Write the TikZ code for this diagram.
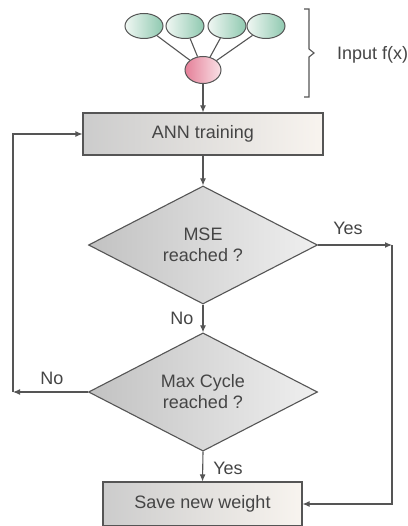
\documentclass[tikz,border=0pt]{standalone}
\usepackage{fontspec}
\setmainfont{Liberation Sans}
\usetikzlibrary{shapes.geometric,arrows.meta}
\definecolor{edge}{HTML}{555555}
\definecolor{txt}{HTML}{454545}
\definecolor{greenR}{HTML}{8FC9B0}
\definecolor{greenL}{HTML}{F0F7F3}
\definecolor{pinkL}{HTML}{E57F98}
\definecolor{pinkR}{HTML}{F9E1E6}
\definecolor{boxL}{HTML}{CCCCCC}
\definecolor{boxR}{HTML}{F8F4EF}
\definecolor{diaL}{HTML}{C2C2C2}
\definecolor{diaR}{HTML}{EFEFEF}
\begin{document}
\begin{tikzpicture}[x=1pt,y=-1pt,
  font=\fontsize{18}{21}\selectfont, text=txt,
  conn/.style={draw=edge, line width=1.1pt},
  arr/.style={conn, -{Latex[length=7pt,width=6pt]}},
  inode/.style={ellipse, draw=edge, line width=1pt, minimum width=38pt, minimum height=25pt, inner sep=0pt, left color=greenL, right color=greenR},
  onode/.style={ellipse, draw=edge, line width=1pt, minimum width=36pt, minimum height=27pt, inner sep=0pt, left color=pinkL, right color=pinkR},
  procbox/.style={rectangle, draw=edge, line width=1.1pt, left color=boxL, right color=boxR, inner sep=0pt},
  decision/.style={diamond, draw=edge, line width=1.1pt, left color=diaL, right color=diaR, inner sep=0pt, minimum width=229pt, minimum height=118pt, align=center},
  lbl/.style={inner sep=0pt}]
\useasboundingbox (0,0) rectangle (407,526);
\fill[white] (0,0) rectangle (407,526);

\node[inode] (e1) at (144,26) {};
\node[inode] (e2) at (185,26) {};
\node[inode] (e3) at (227,26) {};
\node[inode] (e4) at (266,26) {};
\node[onode] (p) at (203,70) {};
\draw[conn] (e1) -- (p);
\draw[conn] (e2) -- (p);
\draw[conn] (e3) -- (p);
\draw[conn] (e4) -- (p);

\draw[conn] (304,9) -- (309,9) -- (309,49) -- (314,53) -- (309,57) -- (309,97) -- (304,97);
\node[lbl, anchor=west] (inp) at (337,55) {Input f(x)};

\node[procbox, minimum width=240pt, minimum height=42pt] (ann) at (203,134) {ANN training};
\node[decision] (d1) at (203,245) {MSE\\reached ?};
\node[decision] (d2) at (203,392) {Max Cycle\\reached ?};
\node[procbox, minimum width=199pt, minimum height=44pt] (save) at (202.5,504) {Save new weight};

\coordinate (cR) at (392,245);
\coordinate (cL) at (13,392);

\draw[arr] (p) -- (ann);
\draw[arr] (ann) -- (d1);
\draw[arr] (d1.east) -- (cR);
\draw[arr] (cR) |- (save.east);
\draw[arr] (d1.south) -- (d2.north);
\draw[arr] (d2.west) -- (cL);
\draw[arr] (cL) |- (ann.west);
\draw[arr] (d2.south) -- (save.north);

\node[lbl] (yes1) at (348,228) {Yes};
\node[lbl] (no1) at (182,318) {No};
\node[lbl] (no2) at (52,378) {No};
\node[lbl] (yes2) at (228,468) {Yes};
\end{tikzpicture}
\end{document}
